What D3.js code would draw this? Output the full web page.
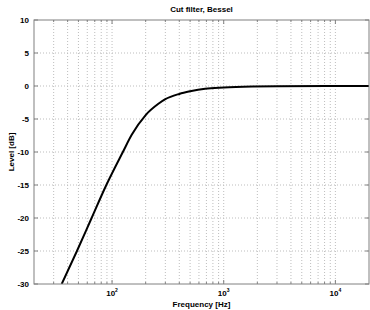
<!DOCTYPE html>
<html>
<head>
<meta charset="utf-8">
<script src="https://cdn.jsdelivr.net/npm/d3@7"></script>
<style>
  body { margin: 0; background: #fff; }
  text { font-family: 'Liberation Sans', Arial, sans-serif; font-weight: bold; fill: #000; }
</style>
</head>
<body>
<svg class="chart" width="370" height="310"></svg>
<script>
// values
const frequency = [35.4, 48.5, 65.6, 88.9, 125, 150, 200, 260, 300, 400, 500, 682, 1000, 1800, 3000, 20000];
const level = [-30, -25, -20, -15, -10, -7.4, -4.4, -2.7, -2.0, -1.2, -0.8, -0.4, -0.22, -0.08, -0.03, 0];
const levelTicks = [10, 5, 0, -5, -10, -15, -20, -25, -30];
const decadeTicks = [100, 1000, 10000];

const margin = { top: 20, right: 1, bottom: 26, left: 34 };
const svg = d3.select('.chart');
const width = 370 - margin.left - margin.right;
const height = 310 - margin.top - margin.bottom;

const surface = svg.append('g')
  .attr('transform', `translate(${margin.left}, ${margin.top})`);

const x = d3.scaleLog().domain([20, 20000]).range([0, width]);
const y = d3.scaleLinear().domain([-30, 10]).range([height, 0]);

// minor log ticks 30..10000
const minorTicks = [];
[10, 100, 1000].forEach((dec) => {
  for (let k = 1; k <= 9; k += 1) {
    const v = dec * k;
    if (v > 20 && v < 20000) minorTicks.push(v);
  }
});
minorTicks.push(10000);

// grid
surface.append('g')
  .selectAll('line')
  .data(minorTicks)
  .join('line')
  .attr('x1', d => x(d)).attr('x2', d => x(d))
  .attr('y1', 0).attr('y2', height)
  .attr('stroke', '#bdbdbd')
  .attr('stroke-dasharray', '1,2');

surface.append('g')
  .selectAll('line')
  .data(levelTicks.slice(1, -1))
  .join('line')
  .attr('x1', 0).attr('x2', width)
  .attr('y1', d => y(d)).attr('y2', d => y(d))
  .attr('stroke', '#bdbdbd')
  .attr('stroke-dasharray', '1,2');

// inward ticks on all sides
const ticks = surface.append('g').attr('stroke', '#808080');
minorTicks.forEach((d) => {
  const len = decadeTicks.includes(d) ? 4 : 2;
  ticks.append('line').attr('x1', x(d)).attr('x2', x(d)).attr('y1', height).attr('y2', height - len);
  ticks.append('line').attr('x1', x(d)).attr('x2', x(d)).attr('y1', 0).attr('y2', len);
});
levelTicks.forEach((d) => {
  ticks.append('line').attr('x1', 0).attr('x2', 4).attr('y1', y(d)).attr('y2', y(d));
  ticks.append('line').attr('x1', width - 4).attr('x2', width).attr('y1', y(d)).attr('y2', y(d));
});

// curve
const clip = surface.append('clipPath').attr('id', 'plot-clip');
clip.append('rect').attr('width', width).attr('height', height);

const valueline = d3.line()
  .x(d => x(d[0]))
  .y(d => y(d[1]))
  .curve(d3.curveMonotoneX);

surface.append('path')
  .datum(frequency.map((f, i) => [f, level[i]]))
  .attr('clip-path', 'url(#plot-clip)')
  .attr('d', valueline)
  .attr('fill', 'none')
  .attr('stroke', '#000')
  .attr('stroke-width', 2);

// frame
surface.append('rect')
  .attr('width', width)
  .attr('height', height)
  .attr('fill', 'none')
  .attr('stroke', '#808080');

// y tick labels
surface.append('g')
  .selectAll('text')
  .data(levelTicks)
  .join('text')
  .attr('x', -5)
  .attr('y', d => y(d) + 3)
  .attr('text-anchor', 'end')
  .attr('font-size', 8)
  .text(d => d);

// x tick labels with superscript exponent
const xl = surface.append('g')
  .selectAll('text')
  .data(decadeTicks)
  .join('text')
  .attr('x', d => x(d))
  .attr('y', height + 12)
  .attr('text-anchor', 'middle')
  .attr('font-size', 8);
xl.append('tspan').text('10');
xl.append('tspan')
  .attr('font-size', 5)
  .attr('dy', -4)
  .text(d => Math.round(Math.log10(d)));

// titles
svg.append('text')
  .attr('x', margin.left + width / 2)
  .attr('y', 12)
  .attr('text-anchor', 'middle')
  .attr('font-size', 8)
  .text('Cut filter, Bessel');

svg.append('text')
  .attr('x', margin.left + width / 2)
  .attr('y', 307)
  .attr('text-anchor', 'middle')
  .attr('font-size', 8)
  .text('Frequency [Hz]');

svg.append('text')
  .attr('transform', `translate(14, ${margin.top + height / 2}) rotate(-90)`)
  .attr('text-anchor', 'middle')
  .attr('font-size', 8)
  .text('Level [dB]');
</script>
</body>
</html>
